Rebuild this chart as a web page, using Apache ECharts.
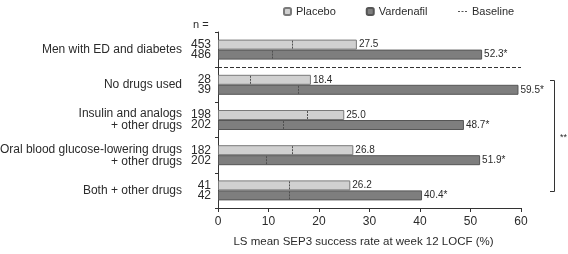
<!DOCTYPE html>
<html>
<head>
<meta charset="utf-8">
<script src="https://cdn.jsdelivr.net/npm/echarts@6/dist/echarts.min.js"></script>
<style>
  html, body { margin: 0; padding: 0; background: #fff; }
  #main { width: 568px; height: 254px; }
</style>
</head>
<body>
<div id="main"></div>
<script>
var categories = ['Men with ED and diabetes', 'No drugs used', 'Insulin and analogs\n+ other drugs',
                  'Oral blood glucose-lowering drugs\n+ other drugs', 'Both + other drugs'];
var nPlacebo = [453, 28, 198, 182, 41];
var nVardenafil = [486, 39, 202, 202, 42];
var placebo = [27.5, 18.4, 25.0, 26.8, 26.2];
var vardenafil = [52.3, 59.5, 48.7, 51.9, 40.4];
var basePlacebo = [14.6, 6.4, 17.6, 14.6, 14.0];
var baseVardenafil = [10.7, 15.8, 12.8, 9.5, 14.1];
var xMin = 0, xMax = 60, xStep = 10;

var font = 'Liberation Sans, Arial, sans-serif';
var txt = '#2b2b2b';

var chart = echarts.init(document.getElementById('main'));

// baseline dashes and n= labels, one row per bar
var baseData = [], nData = [];
for (var i = 0; i < categories.length; i++) {
    baseData.push([basePlacebo[i], i, 0]);
    baseData.push([baseVardenafil[i], i, 1]);
    nData.push([0, i, 0, nPlacebo[i]]);
    nData.push([0, i, 1, nVardenafil[i]]);
}

var option = {
    animation: false,
    textStyle: { fontFamily: font },
    grid: { left: 218, right: 47, top: 32, bottom: 46, outerBoundsMode: 'none' },
    legend: [
        {
            data: ['Placebo', 'Vardenafil'],
            left: 278, top: 1,
            itemWidth: 7, itemHeight: 7, itemGap: 30,
            textStyle: { fontSize: 11, color: txt, fontFamily: font }
        },
        {
            data: [{ name: 'Baseline', icon: 'path://M0,0h2v1h-2z M3.5,0h2v1h-2z M7,0h2v1h-2z' }],
            left: 453, top: 1,
            itemWidth: 9, itemHeight: 1, itemGap: 4,
            textStyle: { fontSize: 11, color: txt, fontFamily: font }
        }
    ],
    xAxis: {
        type: 'value', min: xMin, max: xMax, interval: xStep,
        name: 'LS mean SEP3 success rate at week 12 LOCF (%)',
        nameLocation: 'middle', nameGap: 28,
        nameTextStyle: { fontSize: 11.5, color: txt, padding: [0, 12, 0, 0] },
        axisLine: { show: true, lineStyle: { color: '#333' } },
        axisTick: { show: true, length: 4, lineStyle: { color: '#333' } },
        axisLabel: { fontSize: 12, color: txt, margin: 8 },
        splitLine: { show: false }
    },
    yAxis: {
        type: 'category', data: categories, inverse: true,
        axisLine: { show: true, lineStyle: { color: '#333' } },
        axisTick: { show: true, length: 3, lineStyle: { color: '#333' } },
        axisLabel: { fontSize: 12, color: txt, margin: 36, lineHeight: 12, align: 'right' },
        splitLine: { show: false }
    },
    series: [
        {
            name: 'Placebo', type: 'bar', data: placebo,
            barWidth: 10, barGap: 0,
            itemStyle: { color: '#d0d0d0', borderColor: '#7a7a7a', borderWidth: 1 },
            label: { show: true, position: 'right', distance: 2, fontSize: 10, color: txt,
                     formatter: function (p) { return p.value.toFixed(1); } }
        },
        {
            name: 'Vardenafil', type: 'bar', data: vardenafil,
            barWidth: 10, barGap: 0,
            itemStyle: { color: '#7e7e7e', borderColor: '#555', borderWidth: 1 },
            label: { show: true, position: 'right', distance: 2, fontSize: 10, color: txt,
                     formatter: function (p) { return p.value.toFixed(1) + '*'; } }
        },
        {
            name: 'Baseline', type: 'custom', data: baseData, z: 10,
            itemStyle: { color: '#555' },
            renderItem: function (params, api) {
                var p = api.coord([api.value(0), api.value(1)]);
                var y = p[1] + (api.value(2) === 0 ? -5 : 5);
                var x = Math.round(p[0]) + 0.5;
                return {
                    type: 'line',
                    z2: 100,
                    shape: { x1: x, y1: y - 4, x2: x, y2: y + 4 },
                    style: { stroke: '#505050', lineWidth: 1, lineDash: [2, 1] }
                };
            }
        },
        {
            name: 'n', type: 'custom', data: nData, silent: true,
            renderItem: function (params, api) {
                var p = api.coord([api.value(0), api.value(1)]);
                var y = p[1] + (api.value(2) === 0 ? -5 : 5);
                return {
                    type: 'text',
                    style: { x: p[0] - 7, y: y, text: String(api.value(3)), align: 'right',
                             verticalAlign: 'middle', fontSize: 12, fill: txt, fontFamily: font }
                };
            }
        }
    ],
    graphic: [
        { type: 'text', left: 193, top: 19,
          style: { text: 'n =', fontSize: 11, fill: txt, fontFamily: font } },
        { type: 'polyline', shape: { points: [[550, 80.5], [554.5, 80.5], [554.5, 191.5], [550, 191.5]] },
          style: { stroke: '#333', lineWidth: 1, fill: null } },
        { type: 'text', left: 560, top: 133,
          style: { text: '**', fontSize: 9, fill: txt, fontFamily: font } }
    ]
};

chart.setOption(option);

// dashed separator between the overall group and the subgroups
var yA = chart.convertToPixel({ yAxisIndex: 0 }, 0);
var yB = chart.convertToPixel({ yAxisIndex: 0 }, 1);
var ySep = Math.round((yA + yB) / 2) + 0.5;
var x0 = chart.convertToPixel({ xAxisIndex: 0 }, xMin);
var x1 = chart.convertToPixel({ xAxisIndex: 0 }, xMax);
chart.setOption({
    graphic: option.graphic.concat([{
        type: 'line', shape: { x1: x0, y1: ySep, x2: x1, y2: ySep },
        style: { stroke: '#333', lineWidth: 1, lineDash: [4, 2] }
    }])
});
</script>
</body>
</html>
